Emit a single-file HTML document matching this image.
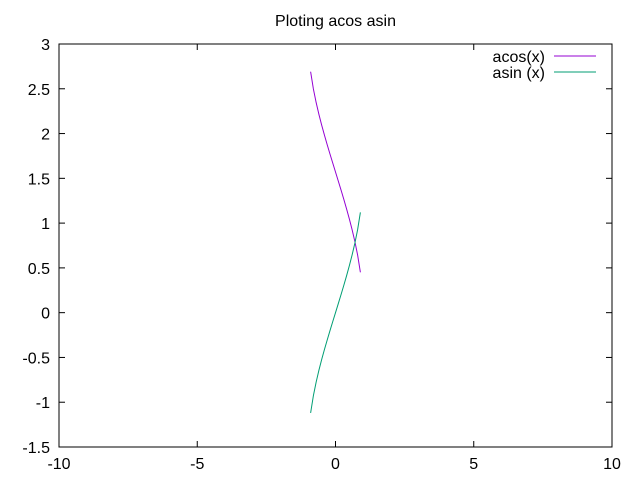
<!DOCTYPE html>
<html><head><meta charset="utf-8"><style>
body{margin:0;background:#fff}
svg{display:block;font-family:"Liberation Sans",sans-serif;font-size:16px}
</style></head><body>
<svg id="chart" width="640" height="480" viewBox="0 0 640 480">
<rect width="640" height="480" fill="#fff"/>
<text x="335.5" y="26" text-anchor="middle">Ploting acos asin</text>
<g id="axes"></g>
<g id="series"></g>
<g id="legend"></g>
</svg>
<script>
const xs=[-0.9,-0.8,-0.7,-0.6,-0.5,-0.4,-0.3,-0.2,-0.1,0,0.1,0.2,0.3,0.4,0.5,0.6,0.7,0.8,0.9];
const acosVals=[2.6906,2.4981,2.3462,2.2143,2.0944,1.9823,1.8755,1.7722,1.6710,1.5708,1.4706,1.3694,1.2661,1.1593,1.0472,0.9273,0.7954,0.6435,0.4510];
const asinVals=[-1.1198,-0.9273,-0.7754,-0.6435,-0.5236,-0.4115,-0.3047,-0.2014,-0.1002,0,0.1002,0.2014,0.3047,0.4115,0.5236,0.6435,0.7754,0.9273,1.1198];
const xTicks=[-10,-5,0,5,10];
const yTicks=[-1.5,-1,-0.5,0,0.5,1,1.5,2,2.5,3];
const seriesNames=["acos(x)","asin (x)"];
const NS="http://www.w3.org/2000/svg";
const L=59,R=612,T=44,B=447;
const X=v=>L+(v+10)/20*(R-L);
const Y=v=>B-(v+1.5)/4.5*(B-T);
function mk(tag,attrs,parent){const e=document.createElementNS(NS,tag);for(const k in attrs)e.setAttribute(k,attrs[k]);parent.appendChild(e);return e;}
const ax=document.getElementById('axes');
const frame=mk('rect',{x:L,y:T,width:R-L,height:B-T,fill:'none',stroke:'#000','stroke-width':1},ax);


xTicks.forEach(v=>{
 const x=X(v);
 const t1=mk('line',{x1:x,y1:B,x2:x,y2:B-6,stroke:'#000'},ax);
 
 
 const t2=mk('line',{x1:x,y1:T,x2:x,y2:T+6,stroke:'#000'},ax);
 
 
 const tx=mk('text',{x:x,y:B+22,'text-anchor':'middle'},ax);tx.textContent=v;
 
 
});
yTicks.forEach(v=>{
 const y=Y(v);
 const t1=mk('line',{x1:L,y1:y,x2:L+6,y2:y,stroke:'#000'},ax);
 
 
 const t2=mk('line',{x1:R,y1:y,x2:R-6,y2:y,stroke:'#000'},ax);
 
 
 const tx=mk('text',{x:L-9,y:y+6,'text-anchor':'end'},ax);tx.textContent=v;
 
 
});
const sg=document.getElementById('series');
const colors=['#9400d3','#009e73'];
[acosVals,asinVals].forEach((vals,i)=>{
 const p=mk('polyline',{points:xs.map((x,j)=>X(x)+','+Y(vals[j])).join(' '),fill:'none',stroke:colors[i],'stroke-width':1},sg);
 
 
});
const lg=document.getElementById('legend');
seriesNames.forEach((n,i)=>{
 const y=56+i*16;
 const t=mk('text',{x:545,y:y+6,'text-anchor':'end'},lg);t.textContent=n;
 
 
 const l=mk('line',{x1:554,y1:y,x2:596,y2:y,stroke:colors[i]},lg);
 
 
});
</script>
</body></html>
